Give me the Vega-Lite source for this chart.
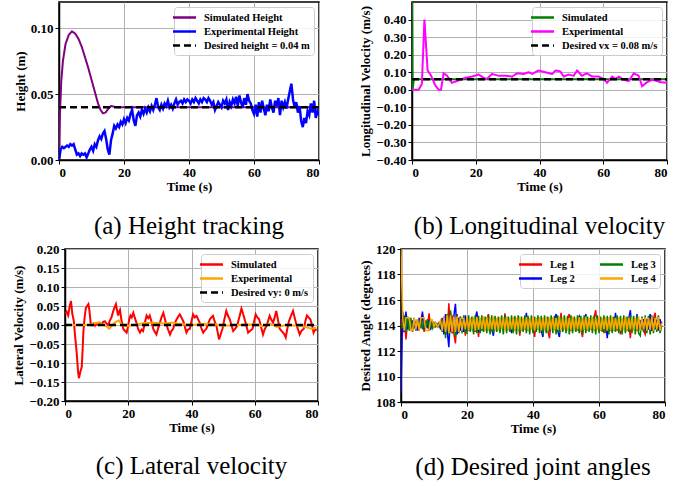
{
"$schema": "https://vega.github.io/schema/vega-lite/v6.json",
"padding": {"left": 12, "top": 1, "right": 5, "bottom": 5},
"background": "white",
"datasets": {
"a_sim": [{"t":0,"Simulated Height":0},{"t":0.3,"Simulated Height":0.035},{"t":0.7,"Simulated Height":0.06},{"t":1.2,"Simulated Height":0.075},{"t":2,"Simulated Height":0.088},{"t":3,"Simulated Height":0.095},{"t":4,"Simulated Height":0.0977},{"t":5,"Simulated Height":0.096},{"t":6,"Simulated Height":0.092},{"t":7,"Simulated Height":0.086},{"t":8,"Simulated Height":0.078},{"t":9,"Simulated Height":0.07},{"t":10,"Simulated Height":0.061},{"t":11,"Simulated Height":0.052},{"t":12,"Simulated Height":0.043},{"t":12.8,"Simulated Height":0.038},{"t":13.5,"Simulated Height":0.0355},{"t":14.3,"Simulated Height":0.036},{"t":15.2,"Simulated Height":0.039},{"t":16,"Simulated Height":0.041},{"t":17,"Simulated Height":0.0405},{"t":18,"Simulated Height":0.04},{"t":80,"Simulated Height":0.04}],
"a_exp": [{"t":0,"Experimental Height":0},{"t":0.5,"Experimental Height":0.008},{"t":1,"Experimental Height":0.01},{"t":1.5,"Experimental Height":0.009},{"t":2,"Experimental Height":0.01},{"t":2.5,"Experimental Height":0.011},{"t":3,"Experimental Height":0.01},{"t":3.5,"Experimental Height":0.012},{"t":4,"Experimental Height":0.011},{"t":4.5,"Experimental Height":0.012},{"t":5,"Experimental Height":0.008},{"t":5.5,"Experimental Height":0.004},{"t":6,"Experimental Height":0.005},{"t":6.5,"Experimental Height":0.003},{"t":7,"Experimental Height":0.005},{"t":7.5,"Experimental Height":0.004},{"t":8,"Experimental Height":0.005},{"t":8.5,"Experimental Height":0.002},{"t":9,"Experimental Height":0.005},{"t":9.5,"Experimental Height":0.008},{"t":10,"Experimental Height":0.01},{"t":10.5,"Experimental Height":0.007},{"t":11,"Experimental Height":0.012},{"t":11.5,"Experimental Height":0.01},{"t":12,"Experimental Height":0.015},{"t":12.5,"Experimental Height":0.018},{"t":13,"Experimental Height":0.016},{"t":13.5,"Experimental Height":0.02},{"t":14,"Experimental Height":0.022},{"t":14.5,"Experimental Height":0.016},{"t":15,"Experimental Height":0.008},{"t":15.5,"Experimental Height":0.004},{"t":16,"Experimental Height":0.015},{"t":16.5,"Experimental Height":0.02},{"t":17,"Experimental Height":0.026},{"t":17.5,"Experimental Height":0.024},{"t":18,"Experimental Height":0.027},{"t":18.5,"Experimental Height":0.025},{"t":19,"Experimental Height":0.029},{"t":19.5,"Experimental Height":0.027},{"t":20,"Experimental Height":0.031},{"t":20.5,"Experimental Height":0.028},{"t":21,"Experimental Height":0.032},{"t":21.5,"Experimental Height":0.03},{"t":22,"Experimental Height":0.035},{"t":22.5,"Experimental Height":0.038},{"t":23,"Experimental Height":0.03},{"t":23.5,"Experimental Height":0.026},{"t":24,"Experimental Height":0.034},{"t":24.5,"Experimental Height":0.036},{"t":25,"Experimental Height":0.033},{"t":25.5,"Experimental Height":0.038},{"t":26,"Experimental Height":0.035},{"t":26.5,"Experimental Height":0.039},{"t":27,"Experimental Height":0.036},{"t":27.5,"Experimental Height":0.04},{"t":28,"Experimental Height":0.037},{"t":28.5,"Experimental Height":0.041},{"t":29,"Experimental Height":0.038},{"t":29.5,"Experimental Height":0.042},{"t":30,"Experimental Height":0.047},{"t":30.5,"Experimental Height":0.04},{"t":31,"Experimental Height":0.038},{"t":31.5,"Experimental Height":0.042},{"t":32,"Experimental Height":0.039},{"t":32.5,"Experimental Height":0.043},{"t":33,"Experimental Height":0.041},{"t":33.5,"Experimental Height":0.045},{"t":34,"Experimental Height":0.04},{"t":34.5,"Experimental Height":0.042},{"t":35,"Experimental Height":0.039},{"t":35.5,"Experimental Height":0.043},{"t":36,"Experimental Height":0.046},{"t":36.5,"Experimental Height":0.042},{"t":37,"Experimental Height":0.044},{"t":37.5,"Experimental Height":0.045},{"t":38,"Experimental Height":0.043},{"t":38.5,"Experimental Height":0.046},{"t":39,"Experimental Height":0.044},{"t":39.5,"Experimental Height":0.046},{"t":40,"Experimental Height":0.045},{"t":40.5,"Experimental Height":0.043},{"t":41,"Experimental Height":0.046},{"t":41.5,"Experimental Height":0.044},{"t":42,"Experimental Height":0.047},{"t":42.5,"Experimental Height":0.045},{"t":43,"Experimental Height":0.043},{"t":43.5,"Experimental Height":0.046},{"t":44,"Experimental Height":0.044},{"t":44.5,"Experimental Height":0.047},{"t":45,"Experimental Height":0.046},{"t":45.5,"Experimental Height":0.044},{"t":46,"Experimental Height":0.047},{"t":46.5,"Experimental Height":0.045},{"t":47,"Experimental Height":0.042},{"t":47.5,"Experimental Height":0.044},{"t":48,"Experimental Height":0.038},{"t":48.5,"Experimental Height":0.041},{"t":49,"Experimental Height":0.044},{"t":49.5,"Experimental Height":0.042},{"t":50,"Experimental Height":0.04},{"t":50.5,"Experimental Height":0.045},{"t":51,"Experimental Height":0.043},{"t":51.5,"Experimental Height":0.046},{"t":52,"Experimental Height":0.038},{"t":52.5,"Experimental Height":0.044},{"t":53,"Experimental Height":0.041},{"t":53.5,"Experimental Height":0.046},{"t":54,"Experimental Height":0.043},{"t":54.5,"Experimental Height":0.048},{"t":55,"Experimental Height":0.041},{"t":55.5,"Experimental Height":0.049},{"t":56,"Experimental Height":0.044},{"t":56.5,"Experimental Height":0.04},{"t":57,"Experimental Height":0.047},{"t":57.5,"Experimental Height":0.042},{"t":58,"Experimental Height":0.05},{"t":58.5,"Experimental Height":0.045},{"t":59,"Experimental Height":0.043},{"t":59.5,"Experimental Height":0.038},{"t":60,"Experimental Height":0.035},{"t":60.5,"Experimental Height":0.042},{"t":61,"Experimental Height":0.033},{"t":61.5,"Experimental Height":0.044},{"t":62,"Experimental Height":0.036},{"t":62.5,"Experimental Height":0.045},{"t":63,"Experimental Height":0.039},{"t":63.5,"Experimental Height":0.034},{"t":64,"Experimental Height":0.042},{"t":64.5,"Experimental Height":0.037},{"t":65,"Experimental Height":0.046},{"t":65.5,"Experimental Height":0.04},{"t":66,"Experimental Height":0.036},{"t":66.5,"Experimental Height":0.045},{"t":67,"Experimental Height":0.041},{"t":67.5,"Experimental Height":0.047},{"t":68,"Experimental Height":0.034},{"t":68.5,"Experimental Height":0.045},{"t":69,"Experimental Height":0.04},{"t":69.5,"Experimental Height":0.044},{"t":70,"Experimental Height":0.039},{"t":70.5,"Experimental Height":0.046},{"t":71,"Experimental Height":0.052},{"t":71.5,"Experimental Height":0.058},{"t":72,"Experimental Height":0.046},{"t":72.5,"Experimental Height":0.04},{"t":73,"Experimental Height":0.044},{"t":73.5,"Experimental Height":0.036},{"t":74,"Experimental Height":0.041},{"t":74.5,"Experimental Height":0.03},{"t":75,"Experimental Height":0.025},{"t":75.5,"Experimental Height":0.032},{"t":76,"Experimental Height":0.028},{"t":76.5,"Experimental Height":0.037},{"t":77,"Experimental Height":0.034},{"t":77.5,"Experimental Height":0.043},{"t":78,"Experimental Height":0.036},{"t":78.5,"Experimental Height":0.045},{"t":79,"Experimental Height":0.032},{"t":79.5,"Experimental Height":0.037},{"t":80,"Experimental Height":0.034}],
"a_des": [{"t":0,"v":0.04,"s":"Desired height = 0.04 m"},{"t":80,"v":0.04,"s":"Desired height = 0.04 m"}],
"b_sim": [{"t":0,"Simulated":0.5},{"t":0.15,"Simulated":0.0},{"t":0.6,"Simulated":0.06},{"t":80,"Simulated":0.06}],
"b_exp": [{"t":0,"Experimental":0},{"t":2.1,"Experimental":0},{"t":3.1,"Experimental":0.034},{"t":3.9,"Experimental":0.4},{"t":4.9,"Experimental":0.11},{"t":6,"Experimental":0.08},{"t":7.3,"Experimental":0.025},{"t":8.4,"Experimental":0},{"t":9.1,"Experimental":0},{"t":9.9,"Experimental":0.094},{"t":11,"Experimental":0.08},{"t":12.5,"Experimental":0.04},{"t":14.6,"Experimental":0.053},{"t":16.7,"Experimental":0.068},{"t":18.8,"Experimental":0.075},{"t":20.9,"Experimental":0.087},{"t":22.5,"Experimental":0.068},{"t":23.5,"Experimental":0.062},{"t":25.1,"Experimental":0.09},{"t":27.2,"Experimental":0.08},{"t":29.3,"Experimental":0.08},{"t":31.4,"Experimental":0.075},{"t":33,"Experimental":0.094},{"t":35,"Experimental":0.09},{"t":36.6,"Experimental":0.1},{"t":37.7,"Experimental":0.09},{"t":39.7,"Experimental":0.11},{"t":41.8,"Experimental":0.1},{"t":44,"Experimental":0.09},{"t":45,"Experimental":0.11},{"t":46.5,"Experimental":0.105},{"t":47.6,"Experimental":0.075},{"t":49.2,"Experimental":0.087},{"t":50.7,"Experimental":0.08},{"t":51.8,"Experimental":0.11},{"t":53.3,"Experimental":0.08},{"t":54.9,"Experimental":0.094},{"t":56.5,"Experimental":0.075},{"t":58.6,"Experimental":0.075},{"t":60.1,"Experimental":0.062},{"t":61.2,"Experimental":0.04},{"t":62.8,"Experimental":0.075},{"t":63.8,"Experimental":0.062},{"t":64.9,"Experimental":0.075},{"t":66.4,"Experimental":0.057},{"t":68,"Experimental":0.05},{"t":69.6,"Experimental":0.094},{"t":71.1,"Experimental":0.08},{"t":72.2,"Experimental":0.02},{"t":73.7,"Experimental":0.043},{"t":75.3,"Experimental":0.057},{"t":76.9,"Experimental":0.05},{"t":77.9,"Experimental":0.043},{"t":80,"Experimental":0.04}],
"b_des": [{"t":0,"v":0.06,"s":"Desired vx = 0.08 m/s"},{"t":80,"v":0.06,"s":"Desired vx = 0.08 m/s"}],
"c_sim": [{"t":0,"Simulated":0.03},{"t":0.5,"Simulated":0.035},{"t":1,"Simulated":0.025},{"t":1.5,"Simulated":0.05},{"t":1.9,"Simulated":0.063},{"t":2.3,"Simulated":0.03},{"t":2.8,"Simulated":0.01},{"t":3.2,"Simulated":-0.03},{"t":3.7,"Simulated":-0.073},{"t":4.1,"Simulated":-0.12},{"t":4.4,"Simulated":-0.14},{"t":4.8,"Simulated":-0.125},{"t":5.3,"Simulated":-0.11},{"t":5.6,"Simulated":-0.06},{"t":5.8,"Simulated":-0.02},{"t":6.2,"Simulated":0.02},{"t":6.6,"Simulated":0.045},{"t":7,"Simulated":0.05},{"t":7.4,"Simulated":0.055},{"t":7.7,"Simulated":0.04},{"t":8.1,"Simulated":0.006},{"t":8.6,"Simulated":0},{"t":9,"Simulated":0.004},{"t":9.5,"Simulated":-0.002},{"t":10,"Simulated":0.004},{"t":10.5,"Simulated":0},{"t":11,"Simulated":0.006},{"t":11.5,"Simulated":0.002},{"t":12,"Simulated":0.008},{"t":12.6,"Simulated":0.01},{"t":13.1,"Simulated":0.004},{"t":13.7,"Simulated":0},{"t":14.2,"Simulated":0.012},{"t":14.7,"Simulated":0.02},{"t":15.2,"Simulated":0.035},{"t":15.6,"Simulated":0.045},{"t":16.1,"Simulated":0.055},{"t":16.4,"Simulated":0.04},{"t":16.8,"Simulated":0.025},{"t":17.1,"Simulated":0.035},{"t":17.4,"Simulated":0.04},{"t":17.8,"Simulated":0.015},{"t":18.4,"Simulated":-0.01},{"t":18.9,"Simulated":-0.015},{"t":19.5,"Simulated":-0.02},{"t":19.9,"Simulated":-0.005},{"t":20.3,"Simulated":0.015},{"t":20.7,"Simulated":0.025},{"t":21.1,"Simulated":0.02},{"t":21.6,"Simulated":0.032},{"t":22.1,"Simulated":0.018},{"t":22.6,"Simulated":0.006},{"t":23.1,"Simulated":-0.01},{"t":23.7,"Simulated":-0.02},{"t":24.2,"Simulated":-0.012},{"t":24.7,"Simulated":-0.016},{"t":25.2,"Simulated":0.005},{"t":25.8,"Simulated":0.025},{"t":26.3,"Simulated":0.018},{"t":26.8,"Simulated":0.025},{"t":27.3,"Simulated":0.01},{"t":27.9,"Simulated":-0.01},{"t":28.4,"Simulated":-0.018},{"t":28.9,"Simulated":-0.025},{"t":29.4,"Simulated":-0.01},{"t":30,"Simulated":0.006},{"t":30.5,"Simulated":0.02},{"t":31.1,"Simulated":0.032},{"t":31.6,"Simulated":0.015},{"t":32.1,"Simulated":0},{"t":32.6,"Simulated":-0.012},{"t":33.2,"Simulated":-0.025},{"t":33.7,"Simulated":-0.015},{"t":34.2,"Simulated":-0.01},{"t":34.7,"Simulated":0.005},{"t":35.3,"Simulated":0.015},{"t":35.8,"Simulated":0.022},{"t":36.3,"Simulated":0.028},{"t":36.8,"Simulated":0.02},{"t":37.4,"Simulated":0.01},{"t":37.9,"Simulated":-0.005},{"t":38.4,"Simulated":-0.02},{"t":38.9,"Simulated":-0.012},{"t":39.5,"Simulated":-0.01},{"t":40,"Simulated":0.01},{"t":40.5,"Simulated":0.028},{"t":41,"Simulated":0.02},{"t":41.6,"Simulated":0.024},{"t":42.1,"Simulated":0.015},{"t":42.6,"Simulated":0.006},{"t":43.1,"Simulated":-0.008},{"t":43.7,"Simulated":-0.02},{"t":44.2,"Simulated":-0.014},{"t":44.7,"Simulated":-0.01},{"t":45.2,"Simulated":0.002},{"t":45.8,"Simulated":0.015},{"t":46.3,"Simulated":0.02},{"t":46.8,"Simulated":0.024},{"t":47.3,"Simulated":0.01},{"t":47.9,"Simulated":-0.003},{"t":48.3,"Simulated":-0.02},{"t":48.7,"Simulated":-0.038},{"t":49.2,"Simulated":-0.025},{"t":49.8,"Simulated":-0.01},{"t":50.4,"Simulated":0.015},{"t":51,"Simulated":0.037},{"t":51.5,"Simulated":0.025},{"t":52.1,"Simulated":0.015},{"t":52.6,"Simulated":0},{"t":53.2,"Simulated":-0.016},{"t":53.8,"Simulated":-0.01},{"t":54.4,"Simulated":-0.003},{"t":55.1,"Simulated":0.02},{"t":55.8,"Simulated":0.043},{"t":56.3,"Simulated":0.03},{"t":56.8,"Simulated":0.015},{"t":57.3,"Simulated":0},{"t":57.9,"Simulated":-0.02},{"t":58.6,"Simulated":-0.015},{"t":59.3,"Simulated":-0.01},{"t":59.8,"Simulated":0.01},{"t":60.3,"Simulated":0.028},{"t":60.8,"Simulated":0.02},{"t":61.4,"Simulated":0.015},{"t":62,"Simulated":-0.005},{"t":62.6,"Simulated":-0.025},{"t":63.1,"Simulated":-0.012},{"t":63.7,"Simulated":-0.003},{"t":64.2,"Simulated":0.01},{"t":64.7,"Simulated":0.024},{"t":65.2,"Simulated":0.015},{"t":65.8,"Simulated":0.006},{"t":66.3,"Simulated":0.02},{"t":66.8,"Simulated":0.037},{"t":67.3,"Simulated":0.015},{"t":67.9,"Simulated":-0.01},{"t":68.4,"Simulated":-0.015},{"t":68.9,"Simulated":-0.02},{"t":69.4,"Simulated":-0.025},{"t":69.8,"Simulated":-0.033},{"t":70.3,"Simulated":-0.01},{"t":70.8,"Simulated":0.01},{"t":71.5,"Simulated":0.025},{"t":72.1,"Simulated":0.037},{"t":72.6,"Simulated":0.02},{"t":73.2,"Simulated":0},{"t":73.7,"Simulated":-0.012},{"t":74.2,"Simulated":-0.025},{"t":74.8,"Simulated":-0.015},{"t":75.5,"Simulated":-0.01},{"t":76,"Simulated":0.01},{"t":76.5,"Simulated":0.025},{"t":77,"Simulated":0.02},{"t":77.6,"Simulated":0.015},{"t":78.1,"Simulated":0},{"t":78.6,"Simulated":-0.02},{"t":79.1,"Simulated":-0.01},{"t":79.5,"Simulated":-0.015}],
"c_exp": [{"t":0,"Experimental":0},{"t":8,"Experimental":0},{"t":9,"Experimental":0.004},{"t":10,"Experimental":0.006},{"t":11,"Experimental":0.006},{"t":12,"Experimental":0.002},{"t":13,"Experimental":-0.003},{"t":14,"Experimental":-0.01},{"t":15,"Experimental":0},{"t":16,"Experimental":0.008},{"t":17,"Experimental":0.012},{"t":18,"Experimental":0},{"t":19,"Experimental":-0.003},{"t":22,"Experimental":0},{"t":25,"Experimental":0.005},{"t":28,"Experimental":0.006},{"t":31,"Experimental":0.004},{"t":34,"Experimental":0.006},{"t":37,"Experimental":0.002},{"t":40,"Experimental":0},{"t":44,"Experimental":0.003},{"t":47,"Experimental":0.002},{"t":50,"Experimental":-0.002},{"t":55,"Experimental":0},{"t":60,"Experimental":0.002},{"t":62,"Experimental":-0.003},{"t":65,"Experimental":0.003},{"t":67,"Experimental":-0.005},{"t":70,"Experimental":0},{"t":75,"Experimental":-0.003},{"t":78,"Experimental":-0.01},{"t":79.5,"Experimental":-0.008}],
"c_des": [{"t":0,"v":0,"s":"Desired vy: 0 m/s"},{"t":80,"v":0,"s":"Desired vy: 0 m/s"}],
"d": [
{"t":0,"Leg 1":114.5,"Leg 2":108.7,"Leg 3":114.2,"Leg 4":120},
{"t":0.5,"Leg 1":113.4,"Leg 2":115.1,"Leg 3":113.8,"Leg 4":114.6},
{"t":1,"Leg 1":114.6,"Leg 2":113.5,"Leg 3":114.8,"Leg 4":113.6},
{"t":1.5,"Leg 1":112.9,"Leg 2":115.1,"Leg 3":113.5,"Leg 4":114.6},
{"t":2,"Leg 1":114.3,"Leg 2":113.7,"Leg 3":114.7,"Leg 4":114.6},
{"t":2.5,"Leg 1":113.8,"Leg 2":114.5,"Leg 3":113.6,"Leg 4":114.6},
{"t":3,"Leg 1":114.4,"Leg 2":113.8,"Leg 3":114.6,"Leg 4":113.6},
{"t":3.5,"Leg 1":113.7,"Leg 2":114.4,"Leg 3":113.5,"Leg 4":113.6},
{"t":4,"Leg 1":114.5,"Leg 2":113.9,"Leg 3":114.6,"Leg 4":114.6},
{"t":4.5,"Leg 1":113.6,"Leg 2":114.3,"Leg 3":113.7,"Leg 4":113.7},
{"t":5,"Leg 1":114.3,"Leg 2":113.6,"Leg 3":114.5,"Leg 4":114.5},
{"t":5.5,"Leg 1":113.7,"Leg 2":114.6,"Leg 3":113.6,"Leg 4":113.6},
{"t":6,"Leg 1":114.5,"Leg 2":113.8,"Leg 3":114.6,"Leg 4":114.6},
{"t":6.5,"Leg 1":114.9,"Leg 2":115.1,"Leg 3":113.7,"Leg 4":114.6},
{"t":7,"Leg 1":113.5,"Leg 2":113.7,"Leg 3":114.4,"Leg 4":114.6},
{"t":7.5,"Leg 1":114.4,"Leg 2":114.2,"Leg 3":113.8,"Leg 4":113.6},
{"t":8,"Leg 1":113.8,"Leg 2":113.9,"Leg 3":114.5,"Leg 4":113.6},
{"t":8.5,"Leg 1":114.95,"Leg 2":114.4,"Leg 3":113.6,"Leg 4":113.6},
{"t":9,"Leg 1":113.7,"Leg 2":113.8,"Leg 3":114.4,"Leg 4":114.5},
{"t":9.5,"Leg 1":114.3,"Leg 2":114.2,"Leg 3":113.8,"Leg 4":114.4},
{"t":10,"Leg 1":113.9,"Leg 2":113.9,"Leg 3":114.2,"Leg 4":113.9},
{"t":10.5,"Leg 1":114.2,"Leg 2":114.1,"Leg 3":113.9,"Leg 4":114.2},
{"t":11,"Leg 1":113.9,"Leg 2":114.0,"Leg 3":114.1,"Leg 4":113.9},
{"t":11.5,"Leg 1":114.1,"Leg 2":114.2,"Leg 3":113.9,"Leg 4":114.1},
{"t":12,"Leg 1":113.8,"Leg 2":113.7,"Leg 3":114.3,"Leg 4":114.4},
{"t":12.5,"Leg 1":114.5,"Leg 2":114.6,"Leg 3":113.5,"Leg 4":113.6},
{"t":13,"Leg 1":113.4,"Leg 2":113.3,"Leg 3":114.7,"Leg 4":114.7},
{"t":13.5,"Leg 1":114.8,"Leg 2":114.9,"Leg 3":113.0,"Leg 4":113.5},
{"t":14,"Leg 1":113.3,"Leg 2":113.6,"Leg 3":114.9,"Leg 4":114.8},
{"t":14.5,"Leg 1":115.75,"Leg 2":112.3,"Leg 3":113.3,"Leg 4":113.4},
{"t":15,"Leg 1":113.5,"Leg 2":115.0,"Leg 3":115.2,"Leg 4":114.8},
{"t":15.5,"Leg 1":114.8,"Leg 2":113.4,"Leg 3":113.4,"Leg 4":113.5},
{"t":16,"Leg 1":113.4,"Leg 2":114.7,"Leg 3":114.8,"Leg 4":114.7},
{"t":16.5,"Leg 1":112.6,"Leg 2":115.7,"Leg 3":113.1,"Leg 4":113.5},
{"t":17,"Leg 1":114.9,"Leg 2":113.3,"Leg 3":114.8,"Leg 4":114.7},
{"t":17.5,"Leg 1":113.5,"Leg 2":114.6,"Leg 3":113.4,"Leg 4":113.5},
{"t":18,"Leg 1":114.7,"Leg 2":113.6,"Leg 3":114.7,"Leg 4":114.6},
{"t":18.5,"Leg 1":113.6,"Leg 2":114.5,"Leg 3":113.4,"Leg 4":113.6},
{"t":19,"Leg 1":114.6,"Leg 2":113.5,"Leg 3":114.8,"Leg 4":114.6},
{"t":19.5,"Leg 1":113.2,"Leg 2":114.8,"Leg 3":113.5,"Leg 4":113.7},
{"t":20,"Leg 1":114.5,"Leg 2":113.6,"Leg 3":113.4,"Leg 4":114.65},
{"t":20.5,"Leg 1":113.6,"Leg 2":114.5,"Leg 3":114.8,"Leg 4":113.65},
{"t":21,"Leg 1":114.4,"Leg 2":113.7,"Leg 3":113.5,"Leg 4":114.6},
{"t":21.5,"Leg 1":113.7,"Leg 2":114.4,"Leg 3":114.7,"Leg 4":113.7},
{"t":22,"Leg 1":114.6,"Leg 2":113.5,"Leg 3":113.3,"Leg 4":114.7},
{"t":22.5,"Leg 1":113.5,"Leg 2":114.6,"Leg 3":114.8,"Leg 4":113.6},
{"t":23,"Leg 1":114.3,"Leg 2":115.1,"Leg 3":113.4,"Leg 4":114.65},
{"t":23.5,"Leg 1":113.1,"Leg 2":113.5,"Leg 3":114.75,"Leg 4":113.65},
{"t":24,"Leg 1":114.5,"Leg 2":114.4,"Leg 3":113.4,"Leg 4":114.6},
{"t":24.5,"Leg 1":113.7,"Leg 2":113.6,"Leg 3":114.8,"Leg 4":113.7},
{"t":25,"Leg 1":114.6,"Leg 2":114.5,"Leg 3":113.5,"Leg 4":114.7},
{"t":25.5,"Leg 1":113.6,"Leg 2":113.7,"Leg 3":114.7,"Leg 4":113.6},
{"t":26,"Leg 1":114.4,"Leg 2":114.3,"Leg 3":113.4,"Leg 4":114.65},
{"t":26.5,"Leg 1":114.9,"Leg 2":113.6,"Leg 3":114.8,"Leg 4":113.6},
{"t":27,"Leg 1":113.6,"Leg 2":114.5,"Leg 3":113.3,"Leg 4":114.6},
{"t":27.5,"Leg 1":114.5,"Leg 2":113.7,"Leg 3":114.8,"Leg 4":113.7},
{"t":28,"Leg 1":113.7,"Leg 2":113.2,"Leg 3":113.4,"Leg 4":114.7},
{"t":28.5,"Leg 1":114.4,"Leg 2":114.6,"Leg 3":114.75,"Leg 4":113.65},
{"t":29,"Leg 1":113.6,"Leg 2":113.6,"Leg 3":113.5,"Leg 4":114.6},
{"t":29.5,"Leg 1":114.5,"Leg 2":114.5,"Leg 3":114.7,"Leg 4":113.6},
{"t":30,"Leg 1":113.8,"Leg 2":113.7,"Leg 3":113.4,"Leg 4":114.65},
{"t":30.5,"Leg 1":114.4,"Leg 2":114.4,"Leg 3":114.8,"Leg 4":113.7},
{"t":31,"Leg 1":113.7,"Leg 2":113.6,"Leg 3":113.3,"Leg 4":114.6},
{"t":31.5,"Leg 1":114.95,"Leg 2":114.8,"Leg 3":114.8,"Leg 4":113.65},
{"t":32,"Leg 1":113.6,"Leg 2":113.7,"Leg 3":113.4,"Leg 4":114.7},
{"t":32.5,"Leg 1":114.5,"Leg 2":114.5,"Leg 3":114.7,"Leg 4":113.6},
{"t":33,"Leg 1":113.7,"Leg 2":114.3,"Leg 3":113.5,"Leg 4":114.6},
{"t":33.5,"Leg 1":114.4,"Leg 2":113.4,"Leg 3":114.8,"Leg 4":113.7},
{"t":34,"Leg 1":113.6,"Leg 2":114.6,"Leg 3":113.4,"Leg 4":114.65},
{"t":34.5,"Leg 1":114.6,"Leg 2":113.6,"Leg 3":114.75,"Leg 4":113.6},
{"t":35,"Leg 1":113.7,"Leg 2":114.5,"Leg 3":113.3,"Leg 4":114.6},
{"t":35.5,"Leg 1":114.4,"Leg 2":113.7,"Leg 3":114.8,"Leg 4":113.65},
{"t":36,"Leg 1":113.2,"Leg 2":114.4,"Leg 3":113.4,"Leg 4":114.7},
{"t":36.5,"Leg 1":114.5,"Leg 2":113.6,"Leg 3":114.7,"Leg 4":113.6},
{"t":37,"Leg 1":113.7,"Leg 2":114.5,"Leg 3":113.5,"Leg 4":114.6},
{"t":37.5,"Leg 1":114.6,"Leg 2":113.7,"Leg 3":114.8,"Leg 4":113.7},
{"t":38,"Leg 1":113.6,"Leg 2":115.0,"Leg 3":113.4,"Leg 4":114.65},
{"t":38.5,"Leg 1":114.4,"Leg 2":113.6,"Leg 3":114.75,"Leg 4":113.6},
{"t":39,"Leg 1":113.7,"Leg 2":114.4,"Leg 3":113.3,"Leg 4":114.6},
{"t":39.5,"Leg 1":114.5,"Leg 2":113.7,"Leg 3":114.8,"Leg 4":113.65},
{"t":40,"Leg 1":113.8,"Leg 2":114.5,"Leg 3":113.4,"Leg 4":114.7},
{"t":40.5,"Leg 1":113.1,"Leg 2":113.6,"Leg 3":114.7,"Leg 4":113.6},
{"t":41,"Leg 1":114.5,"Leg 2":114.4,"Leg 3":113.5,"Leg 4":114.6},
{"t":41.5,"Leg 1":113.7,"Leg 2":113.7,"Leg 3":114.8,"Leg 4":113.7},
{"t":42,"Leg 1":114.6,"Leg 2":114.5,"Leg 3":113.4,"Leg 4":114.65},
{"t":42.5,"Leg 1":113.6,"Leg 2":113.6,"Leg 3":114.75,"Leg 4":113.6},
{"t":43,"Leg 1":114.4,"Leg 2":113.1,"Leg 3":113.3,"Leg 4":114.6},
{"t":43.5,"Leg 1":113.7,"Leg 2":114.5,"Leg 3":114.8,"Leg 4":113.65},
{"t":44,"Leg 1":114.5,"Leg 2":113.7,"Leg 3":113.4,"Leg 4":114.7},
{"t":44.5,"Leg 1":113.6,"Leg 2":114.4,"Leg 3":114.7,"Leg 4":113.6},
{"t":45,"Leg 1":113.0,"Leg 2":113.6,"Leg 3":113.5,"Leg 4":114.6},
{"t":45.5,"Leg 1":114.5,"Leg 2":114.5,"Leg 3":114.8,"Leg 4":113.7},
{"t":46,"Leg 1":113.7,"Leg 2":113.7,"Leg 3":113.4,"Leg 4":114.65},
{"t":46.5,"Leg 1":114.4,"Leg 2":114.4,"Leg 3":114.75,"Leg 4":113.6},
{"t":47,"Leg 1":113.6,"Leg 2":114.9,"Leg 3":113.3,"Leg 4":114.6},
{"t":47.5,"Leg 1":114.5,"Leg 2":113.6,"Leg 3":114.8,"Leg 4":113.65},
{"t":48,"Leg 1":113.7,"Leg 2":113.1,"Leg 3":113.4,"Leg 4":114.7},
{"t":48.5,"Leg 1":115.0,"Leg 2":114.5,"Leg 3":114.7,"Leg 4":113.6},
{"t":49,"Leg 1":113.6,"Leg 2":113.7,"Leg 3":113.5,"Leg 4":114.6},
{"t":49.5,"Leg 1":114.4,"Leg 2":114.4,"Leg 3":114.8,"Leg 4":113.7},
{"t":50,"Leg 1":113.8,"Leg 2":113.6,"Leg 3":113.4,"Leg 4":114.65},
{"t":50.5,"Leg 1":114.5,"Leg 2":114.5,"Leg 3":114.75,"Leg 4":113.6},
{"t":51,"Leg 1":114.9,"Leg 2":113.7,"Leg 3":113.3,"Leg 4":114.6},
{"t":51.5,"Leg 1":113.6,"Leg 2":114.4,"Leg 3":114.8,"Leg 4":113.65},
{"t":52,"Leg 1":114.5,"Leg 2":113.6,"Leg 3":113.4,"Leg 4":114.7},
{"t":52.5,"Leg 1":113.7,"Leg 2":114.5,"Leg 3":114.7,"Leg 4":113.6},
{"t":53,"Leg 1":114.4,"Leg 2":113.7,"Leg 3":113.5,"Leg 4":114.6},
{"t":53.5,"Leg 1":113.6,"Leg 2":114.4,"Leg 3":114.8,"Leg 4":113.7},
{"t":54,"Leg 1":114.5,"Leg 2":114.7,"Leg 3":113.4,"Leg 4":114.65},
{"t":54.5,"Leg 1":113.7,"Leg 2":113.6,"Leg 3":114.75,"Leg 4":113.6},
{"t":55,"Leg 1":113.1,"Leg 2":114.5,"Leg 3":113.3,"Leg 4":114.6},
{"t":55.5,"Leg 1":114.5,"Leg 2":113.7,"Leg 3":114.8,"Leg 4":113.65},
{"t":56,"Leg 1":113.6,"Leg 2":114.9,"Leg 3":113.4,"Leg 4":114.7},
{"t":56.5,"Leg 1":114.4,"Leg 2":113.6,"Leg 3":114.7,"Leg 4":113.6},
{"t":57,"Leg 1":113.7,"Leg 2":114.5,"Leg 3":113.5,"Leg 4":114.6},
{"t":57.5,"Leg 1":114.5,"Leg 2":113.7,"Leg 3":114.8,"Leg 4":113.7},
{"t":58,"Leg 1":113.6,"Leg 2":114.4,"Leg 3":113.4,"Leg 4":114.65},
{"t":58.5,"Leg 1":114.6,"Leg 2":113.6,"Leg 3":114.75,"Leg 4":113.6},
{"t":59,"Leg 1":115.2,"Leg 2":114.5,"Leg 3":113.3,"Leg 4":114.6},
{"t":59.5,"Leg 1":113.7,"Leg 2":113.7,"Leg 3":114.8,"Leg 4":113.65},
{"t":60,"Leg 1":114.5,"Leg 2":114.4,"Leg 3":113.4,"Leg 4":114.7},
{"t":60.5,"Leg 1":113.6,"Leg 2":113.6,"Leg 3":114.7,"Leg 4":113.6},
{"t":61,"Leg 1":114.4,"Leg 2":114.5,"Leg 3":113.5,"Leg 4":114.6},
{"t":61.5,"Leg 1":113.4,"Leg 2":113.7,"Leg 3":114.8,"Leg 4":113.7},
{"t":62,"Leg 1":114.5,"Leg 2":114.4,"Leg 3":113.4,"Leg 4":114.65},
{"t":62.5,"Leg 1":113.7,"Leg 2":113.0,"Leg 3":114.75,"Leg 4":113.6},
{"t":63,"Leg 1":114.6,"Leg 2":114.5,"Leg 3":113.3,"Leg 4":114.6},
{"t":63.5,"Leg 1":113.6,"Leg 2":113.7,"Leg 3":114.8,"Leg 4":113.65},
{"t":64,"Leg 1":114.4,"Leg 2":114.4,"Leg 3":113.4,"Leg 4":114.7},
{"t":64.5,"Leg 1":113.7,"Leg 2":113.6,"Leg 3":114.7,"Leg 4":113.6},
{"t":65,"Leg 1":114.5,"Leg 2":115.0,"Leg 3":113.5,"Leg 4":114.6},
{"t":65.5,"Leg 1":113.6,"Leg 2":113.7,"Leg 3":114.8,"Leg 4":113.7},
{"t":66,"Leg 1":114.4,"Leg 2":114.4,"Leg 3":113.4,"Leg 4":114.65},
{"t":66.5,"Leg 1":113.3,"Leg 2":113.6,"Leg 3":114.75,"Leg 4":113.6},
{"t":67,"Leg 1":114.5,"Leg 2":114.5,"Leg 3":113.3,"Leg 4":114.6},
{"t":67.5,"Leg 1":113.7,"Leg 2":113.7,"Leg 3":114.8,"Leg 4":113.65},
{"t":68,"Leg 1":114.6,"Leg 2":114.4,"Leg 3":113.4,"Leg 4":114.7},
{"t":68.5,"Leg 1":113.6,"Leg 2":113.6,"Leg 3":114.7,"Leg 4":113.6},
{"t":69,"Leg 1":114.4,"Leg 2":114.5,"Leg 3":113.5,"Leg 4":114.6},
{"t":69.5,"Leg 1":113.0,"Leg 2":115.2,"Leg 3":114.8,"Leg 4":113.7},
{"t":70,"Leg 1":114.5,"Leg 2":113.6,"Leg 3":113.4,"Leg 4":114.65},
{"t":70.5,"Leg 1":113.7,"Leg 2":114.5,"Leg 3":114.75,"Leg 4":113.6},
{"t":71,"Leg 1":114.4,"Leg 2":113.7,"Leg 3":113.3,"Leg 4":114.6},
{"t":71.5,"Leg 1":113.6,"Leg 2":114.9,"Leg 3":114.8,"Leg 4":113.65},
{"t":72,"Leg 1":114.5,"Leg 2":113.6,"Leg 3":113.4,"Leg 4":114.7},
{"t":72.5,"Leg 1":113.7,"Leg 2":114.4,"Leg 3":113.2,"Leg 4":113.6},
{"t":73,"Leg 1":114.6,"Leg 2":113.7,"Leg 3":114.7,"Leg 4":114.6},
{"t":73.5,"Leg 1":113.6,"Leg 2":114.5,"Leg 3":113.5,"Leg 4":113.7},
{"t":74,"Leg 1":113.3,"Leg 2":113.6,"Leg 3":114.8,"Leg 4":114.65},
{"t":74.5,"Leg 1":114.5,"Leg 2":114.4,"Leg 3":113.4,"Leg 4":113.6},
{"t":75,"Leg 1":113.7,"Leg 2":113.7,"Leg 3":114.75,"Leg 4":114.6},
{"t":75.5,"Leg 1":114.4,"Leg 2":114.9,"Leg 3":113.3,"Leg 4":113.65},
{"t":76,"Leg 1":113.6,"Leg 2":113.6,"Leg 3":114.8,"Leg 4":114.7},
{"t":76.5,"Leg 1":114.5,"Leg 2":114.5,"Leg 3":113.4,"Leg 4":113.6},
{"t":77,"Leg 1":115.0,"Leg 2":113.7,"Leg 3":114.7,"Leg 4":114.6},
{"t":77.5,"Leg 1":113.7,"Leg 2":114.4,"Leg 3":113.5,"Leg 4":113.7},
{"t":78,"Leg 1":114.5,"Leg 2":113.6,"Leg 3":114.8,"Leg 4":114.65},
{"t":78.5,"Leg 1":113.6,"Leg 2":114.5,"Leg 3":113.4,"Leg 4":113.6},
{"t":79,"Leg 1":114.3,"Leg 2":113.9,"Leg 3":114.0,"Leg 4":114.2}
]
},
"spacing": 2,
"resolve": {"scale": {"color": "independent", "strokeDash": "independent"}},
"vconcat": [
{
"spacing": 38,
"resolve": {"scale": {"color": "independent", "strokeDash": "independent"}},
"hconcat": [
{
"width": 260, "height": 158,
"title": {"text": "(a) Height tracking", "offset": 21},
"encoding": {
"x": {"field": "t", "type": "quantitative", "scale": {"domain": [0, 80], "nice": false}, "axis": {"values": [0, 20, 40, 60, 80], "title": "Time (s)"}},
"y": {"field": "v", "type": "quantitative", "scale": {"domain": [0, 0.12], "nice": false, "zero": false}, "axis": {"values": [0, 0.05, 0.1], "format": ".2f", "title": "Height (m)"}},
"color": {"field": "s", "type": "nominal", "scale": {"domain": ["Simulated Height", "Experimental Height", "Desired height = 0.04 m"], "range": ["#800080", "#0000ff", "#000000"]}, "legend": {"title": null}},
"strokeDash": {"field": "s", "type": "nominal", "scale": {"domain": ["Simulated Height", "Experimental Height", "Desired height = 0.04 m"], "range": [[1, 0], [1, 0], [7, 4]]}, "legend": {"title": null}}
},
"layer": [
{"data": {"name": "a_sim"}, "transform": [{"fold": ["Simulated Height"], "as": ["s", "v"]}], "mark": {"type": "line", "strokeWidth": 2, "clip": true}},
{"data": {"name": "a_exp"}, "transform": [{"fold": ["Experimental Height"], "as": ["s", "v"]}], "mark": {"type": "line", "strokeWidth": 2.5, "clip": true}},
{"data": {"name": "a_des"}, "mark": {"type": "line", "strokeWidth": 2.5, "clip": true}}
]
},
{
"width": 255, "height": 158,
"title": {"text": "(b) Longitudinal velocity", "offset": 21},
"encoding": {
"x": {"field": "t", "type": "quantitative", "scale": {"domain": [0, 80], "nice": false}, "axis": {"values": [0, 20, 40, 60, 80], "title": "Time (s)"}},
"y": {"field": "v", "type": "quantitative", "scale": {"domain": [-0.4, 0.5], "nice": false, "zero": false}, "axis": {"values": [-0.4, -0.3, -0.2, -0.1, 0, 0.1, 0.2, 0.3, 0.4], "format": ".2f", "title": "Longitudinal Velocity (m/s)"}},
"color": {"field": "s", "type": "nominal", "scale": {"domain": ["Simulated", "Experimental", "Desired vx = 0.08 m/s"], "range": ["#008000", "#ff00ff", "#000000"]}, "legend": {"title": null}},
"strokeDash": {"field": "s", "type": "nominal", "scale": {"domain": ["Simulated", "Experimental", "Desired vx = 0.08 m/s"], "range": [[1, 0], [1, 0], [7, 4]]}, "legend": {"title": null}}
},
"layer": [
{"data": {"name": "b_sim"}, "transform": [{"fold": ["Simulated"], "as": ["s", "v"]}], "mark": {"type": "line", "strokeWidth": 2, "clip": true}},
{"data": {"name": "b_exp"}, "transform": [{"fold": ["Experimental"], "as": ["s", "v"]}], "mark": {"type": "line", "strokeWidth": 2, "clip": true}},
{"data": {"name": "b_des"}, "mark": {"type": "line", "strokeWidth": 2.5, "clip": true}}
]
}
]
},
{
"spacing": -60,
"resolve": {"scale": {"color": "independent", "strokeDash": "independent"}},
"hconcat": [
{"width": 6, "height": 1, "view": {"stroke": null}, "data": {"values": []}, "mark": {"type": "point", "opacity": 0}},
{
"spacing": 38,
"resolve": {"scale": {"color": "independent", "strokeDash": "independent"}},
"hconcat": [
{
"width": 253, "height": 152,
"title": {"text": "(c) Lateral velocity", "offset": 20},
"encoding": {
"x": {"field": "t", "type": "quantitative", "scale": {"domain": [0, 80], "nice": false}, "axis": {"values": [0, 20, 40, 60, 80], "title": "Time (s)"}},
"y": {"field": "v", "type": "quantitative", "scale": {"domain": [-0.2, 0.2], "nice": false, "zero": false}, "axis": {"values": [-0.2, -0.15, -0.1, -0.05, 0, 0.05, 0.1, 0.15, 0.2], "format": ".2f", "title": "Lateral Velocity (m/s)"}},
"color": {"field": "s", "type": "nominal", "scale": {"domain": ["Simulated", "Experimental", "Desired vy: 0 m/s"], "range": ["#ff0000", "#ffa500", "#000000"]}, "legend": {"title": null}},
"strokeDash": {"field": "s", "type": "nominal", "scale": {"domain": ["Simulated", "Experimental", "Desired vy: 0 m/s"], "range": [[1, 0], [1, 0], [7, 4]]}, "legend": {"title": null}}
},
"layer": [
{"data": {"name": "c_sim"}, "transform": [{"fold": ["Simulated"], "as": ["s", "v"]}], "mark": {"type": "line", "strokeWidth": 2, "clip": true}},
{"data": {"name": "c_exp"}, "transform": [{"fold": ["Experimental"], "as": ["s", "v"]}], "mark": {"type": "line", "strokeWidth": 2, "clip": true}},
{"data": {"name": "c_des"}, "mark": {"type": "line", "strokeWidth": 2.5, "clip": true}}
]
},
{
"width": 264, "height": 153,
"title": {"text": "(d) Desired joint angles", "offset": 20},
"data": {"name": "d"},
"encoding": {
"x": {"field": "t", "type": "quantitative", "scale": {"domain": [0, 80], "nice": false}, "axis": {"values": [0, 20, 40, 60, 80], "title": "Time (s)"}},
"y": {"field": "v", "type": "quantitative", "scale": {"domain": [108, 120], "nice": false, "zero": false}, "axis": {"values": [108, 110, 112, 114, 116, 118, 120], "title": "Desired Angle (degrees)"}},
"color": {"field": "s", "type": "nominal", "scale": {"domain": ["Leg 1", "Leg 2", "Leg 3", "Leg 4"], "range": ["#ff0000", "#0000ff", "#008000", "#ffa500"]}, "legend": {"title": null, "columns": 2, "columnPadding": 20}}
},
"layer": [
{"transform": [{"fold": ["Leg 1"], "as": ["s", "v"]}], "mark": {"type": "line", "strokeWidth": 1.5, "clip": true}},
{"transform": [{"fold": ["Leg 2"], "as": ["s", "v"]}], "mark": {"type": "line", "strokeWidth": 1.5, "clip": true}},
{"transform": [{"fold": ["Leg 3"], "as": ["s", "v"]}], "mark": {"type": "line", "strokeWidth": 1.5, "clip": true}},
{"transform": [{"fold": ["Leg 4"], "as": ["s", "v"]}], "mark": {"type": "line", "strokeWidth": 1.5, "clip": true}}
]
}
]
}
]
}
],
"config": {
"font": "Liberation Serif",
"view": {"stroke": "#000000", "strokeWidth": 1.5},
"axis": {"labelFont": "Liberation Serif", "labelFontWeight": "bold", "labelFontSize": 13, "labelColor": "#000000", "titleFont": "Liberation Serif", "titleFontWeight": "bold", "titleFontSize": 13, "titleColor": "#000000", "domainColor": "#000000", "domainWidth": 1.5, "tickColor": "#000000", "tickSize": 4, "tickWidth": 1, "gridColor": "#b0b0b0", "gridWidth": 1, "labelPadding": 2, "titlePadding": 3},
"axisY": {"minExtent": 0},
"axisX": {"titlePadding": 1},
"title": {"orient": "bottom", "font": "Liberation Serif", "fontSize": 25, "fontWeight": "normal", "color": "#000000", "offset": 20, "anchor": "middle"},
"legend": {"orient": "top-right", "offset": 5, "padding": 4, "fillColor": "rgba(255,255,255,0.85)", "strokeColor": "#cccccc", "cornerRadius": 3, "labelFont": "Liberation Serif", "labelFontWeight": "bold", "labelFontSize": 10.5, "labelColor": "#000000", "labelLimit": 300, "symbolType": "M-2.3,0H2.3", "symbolSize": 100, "symbolStrokeWidth": 2.5, "labelOffset": 13, "rowPadding": 2}
}
}
